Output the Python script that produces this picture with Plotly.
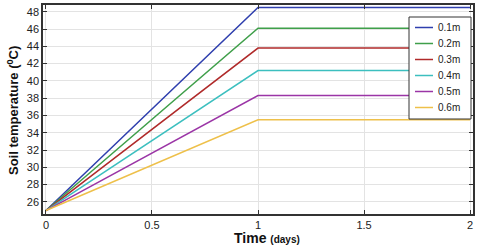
import plotly.graph_objects as go

times = [0, 1, 2]
depths = ["0.1m", "0.2m", "0.3m", "0.4m", "0.5m", "0.6m"]
start_temp = 25.0
plateau = [48.5, 46.1, 43.8, 41.2, 38.3, 35.5]
colors = ["#2f3fae", "#3f9f4a", "#b02a2a", "#3cbfbf", "#9b35a6", "#eec04a"]

W, H = 480, 249
L, R, T, B = 43, 7, 5, 35
PW, PH = W - L - R, H - T - B

def px(x):
    return (x - L) / PW

def py(y):
    return (H - B - y) / PH

fig = go.Figure()
for name, p, c in zip(depths, plateau, colors):
    fig.add_trace(go.Scatter(x=times, y=[start_temp, p, p], mode="lines", name=name,
                             line=dict(color=c, width=1.5), showlegend=False))

font = "Liberation Sans, Arial, sans-serif"
fig.update_layout(
    width=W, height=H,
    margin=dict(l=L, r=R, t=T, b=B, autoexpand=False),
    paper_bgcolor="white", plot_bgcolor="white",
    font=dict(family=font, size=11, color="#222"),
    showlegend=False,
)
fig.update_xaxes(range=[-0.014, 2.014], tickvals=[0, 0.5, 1, 1.5, 2],
                 ticktext=["0", "0.5", "1", "1.5", "2"], automargin=False,
                 showgrid=True, gridcolor="#e3e3e3", gridwidth=1,
                 showline=True, linecolor="#333", linewidth=1.5, mirror="ticks",
                 ticks="inside", ticklen=4, tickcolor="#333", zeroline=False)
fig.update_yaxes(range=[24.6, 48.78], tickvals=list(range(26, 49, 2)), automargin=False,
                 showgrid=True, gridcolor="#e3e3e3", gridwidth=1,
                 showline=True, linecolor="#333", linewidth=1.5, mirror="ticks",
                 ticks="inside", ticklen=4, tickcolor="#333", zeroline=False)

# legend box (drawn manually for compact spacing)
fig.add_shape(type="rect", xref="paper", yref="paper",
              x0=px(409), x1=px(471), y0=py(119), y1=py(17),
              line=dict(color="#333", width=1), fillcolor="white", layer="above")
for i, (name, c) in enumerate(zip(depths, colors)):
    yy = 27.5 + 16 * i
    fig.add_shape(type="line", xref="paper", yref="paper",
                  x0=px(415), x1=px(433), y0=py(yy), y1=py(yy),
                  line=dict(color=c, width=1.5), layer="above")
    fig.add_annotation(text=name, xref="paper", yref="paper", x=px(436), y=py(yy),
                       xanchor="left", yanchor="middle", showarrow=False,
                       font=dict(size=10, family=font, color="#222"))

fig.add_annotation(text="<b>Time</b> <b><span style='font-size:10px'>(days)</span></b>",
                   xref="paper", yref="paper", x=px(267), y=py(238), xanchor="center", yanchor="middle",
                   showarrow=False, font=dict(size=14, family=font, color="#111"))
fig.add_annotation(text="<b>Soil temperature (<sup>0</sup>C)</b>",
                   xref="paper", yref="paper", x=px(13), y=py(111), xanchor="center", yanchor="middle",
                   textangle=-90, showarrow=False, font=dict(size=13, family=font, color="#111"))

fig.write_html("out.html", config={"displayModeBar": False},
               post_script="document.body.style.margin='0';document.body.style.overflow='hidden';")
